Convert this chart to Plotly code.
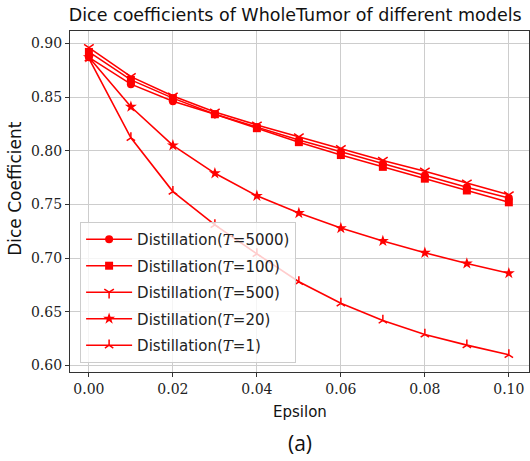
import plotly.graph_objects as go

# Perturbation strength on the x axis
epsilon = [0.00, 0.01, 0.02, 0.03, 0.04, 0.05, 0.06, 0.07, 0.08, 0.09, 0.10]

# Dice coefficient (WholeTumor) per distillation temperature
dice_t5000 = [0.887, 0.862, 0.846, 0.834, 0.822, 0.810, 0.799, 0.788, 0.777, 0.766, 0.756]
dice_t100 = [0.892, 0.866, 0.849, 0.834, 0.821, 0.808, 0.796, 0.785, 0.774, 0.763, 0.752]
dice_t500 = [0.896, 0.869, 0.851, 0.836, 0.824, 0.813, 0.802, 0.791, 0.781, 0.770, 0.759]
dice_t20 = [0.887, 0.841, 0.805, 0.779, 0.758, 0.742, 0.728, 0.716, 0.705, 0.695, 0.686]
dice_t1 = [0.886, 0.812, 0.762, 0.731, 0.704, 0.678, 0.658, 0.642, 0.629, 0.619, 0.610]

temps = ["5000", "100", "500", "20", "1"]
series = [dice_t5000, dice_t100, dice_t500, dice_t20, dice_t1]
symbols = ["circle", "square", "y-down", "star", "y-up"]
sizes = [8, 8, 8, 9, 7]

RED = "#ff0000"
T_MATH = "<span style=\"font-family:'DejaVu Serif';font-style:italic\">T</span>"

fig = go.Figure()
for i, (t, ys, sym, sz) in enumerate(zip(temps, series, symbols, sizes)):
    open_sym = sym.startswith("y-")
    fig.add_trace(go.Scatter(
        x=epsilon, y=ys, mode="lines+markers",
        name=f"Distillation({T_MATH}={t})",
        legendgroup=f"g{i}",
        line=dict(color=RED, width=1.6),
        marker=dict(symbol=sym, size=sz, color=RED,
                    line=dict(color=RED, width=1.5 if open_sym else 0)),
    ))

axis_common = dict(
    showline=True, linecolor="#333333", linewidth=1.2, mirror=True,
    showgrid=True, gridcolor="#cdcdcd", gridwidth=1.2,
    ticks="outside", ticklen=4, tickcolor="#333333",
    tickfont=dict(family="DejaVu Serif", size=14, color="#222222"),
    zeroline=False, tickformat=".2f",
)

fig.update_layout(
    width=530, height=461,
    margin=dict(l=70, r=1, t=31, b=89),
    paper_bgcolor="white", plot_bgcolor="white",
    title=dict(text="Dice coefficients of WholeTumor of different models",
               x=0.557, xanchor="center", y=0.968, yanchor="middle",
               font=dict(family="DejaVu Sans", size=17.5, color="#111111")),
    xaxis=dict(range=[-0.0045, 0.1048], tickvals=[0, 0.02, 0.04, 0.06, 0.08, 0.10],
               **axis_common),
    yaxis=dict(range=[0.594, 0.9115], tickvals=[0.60, 0.65, 0.70, 0.75, 0.80, 0.85, 0.90],
               **axis_common),
    legend=dict(x=0.022, y=0.44, xanchor="left", yanchor="top",
                traceorder="grouped", tracegroupgap=4,
                bgcolor="rgba(255,255,255,0.8)", bordercolor="#cccccc", borderwidth=1,
                font=dict(family="DejaVu Sans", size=15, color="#222222"),
                itemwidth=46),
    showlegend=True,
    annotations=[
        dict(text="Epsilon", xref="paper", yref="paper", x=0.5, y=-0.118,
             xanchor="center", yanchor="middle", showarrow=False,
             font=dict(family="DejaVu Sans", size=15, color="#111111")),
        dict(text="Dice Coefficient", xref="paper", yref="paper", x=-0.12, y=0.537,
             xanchor="center", yanchor="middle", textangle=-90, showarrow=False,
             font=dict(family="DejaVu Sans", size=17, color="#111111")),
        dict(text="(a)", xref="paper", yref="paper", x=0.5, y=-0.208,
             xanchor="center", yanchor="middle", showarrow=False,
             font=dict(family="Open Sans", size=21, color="#111111")),
    ],
)

fig.write_html("out.html")
